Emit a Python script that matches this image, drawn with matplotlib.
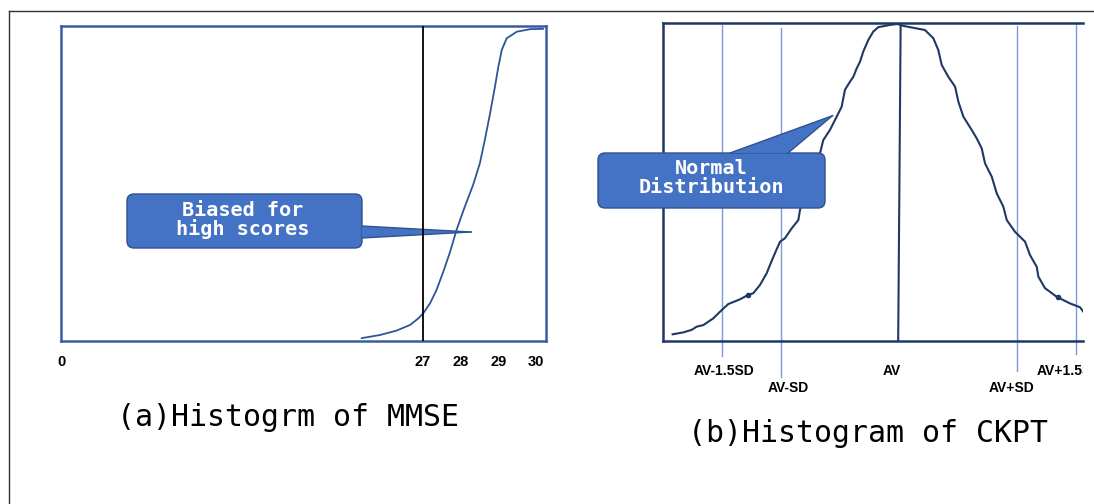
import numpy as np
import matplotlib
matplotlib.use("Agg")
import matplotlib.pyplot as plt
from matplotlib.patches import FancyBboxPatch, Polygon, Rectangle
from matplotlib.transforms import Affine2D
from matplotlib.lines import Line2D

# (a) MMSE - score vs relative frequency
mmse_score = [25.37, 25.86, 26.30, 26.66, 26.88, 27.01, 27.19, 27.36, 27.54,
              27.72, 27.89, 28.11, 28.33, 28.51, 28.64, 28.78, 28.91, 29.00,
              29.09, 29.22, 29.49, 29.84, 30.19]
mmse_freq = [0.009, 0.019, 0.033, 0.051, 0.072, 0.088, 0.120, 0.162, 0.220,
             0.283, 0.352, 0.426, 0.495, 0.564, 0.637, 0.722, 0.807, 0.870,
             0.923, 0.960, 0.981, 0.989, 0.990]
mmse_ticks = [17.4, 27, 28, 29, 30]
mmse_ticklabels = ["0", "27", "28", "29", "30"]
mmse_cut = 27

# (b) CKPT - position in SD units vs relative frequency
ckpt_sd = [-1.918, -1.828, -1.757, -1.714, -1.658, -1.574, -1.503, -1.447,
           -1.347, -1.277, -1.235, -1.178, -1.121, -1.093, -1.051, -1.008,
           -0.966, -0.909, -0.853, -0.839, -0.669, -0.642, -0.585, -0.528,
           -0.486, -0.458, -0.415, -0.387, -0.358, -0.331, -0.303, -0.260,
           -0.218, -0.175, -0.076, -0.014,
           0.036, 0.220, 0.291, 0.333, 0.362, 0.418, 0.475, 0.503, 0.545,
           0.616, 0.658, 0.701, 0.729, 0.786, 0.828, 0.884, 0.913, 0.983,
           1.068, 1.110, 1.167, 1.181, 1.237, 1.336, 1.449, 1.534, 1.562]
ckpt_freq = [0.021, 0.027, 0.035, 0.045, 0.050, 0.071, 0.097, 0.116,
             0.131, 0.145, 0.150, 0.176, 0.213, 0.239, 0.276, 0.312,
             0.323, 0.354, 0.380, 0.412, 0.590, 0.631, 0.663, 0.705,
             0.736, 0.789, 0.815, 0.830, 0.857, 0.877, 0.909, 0.946,
             0.972, 0.986, 0.993, 0.996,
             0.990, 0.977, 0.951, 0.914, 0.867, 0.830, 0.799, 0.752, 0.705,
             0.663, 0.637, 0.605, 0.558, 0.516, 0.464, 0.422, 0.380, 0.343,
             0.312, 0.270, 0.233, 0.202, 0.166, 0.139, 0.118, 0.106, 0.092]
ckpt_dots_sd = [-1.277, 1.350]
ckpt_dots_freq = [0.145, 0.137]
ckpt_lines = [-1.5, -1, 1, 1.5]
ckpt_labels = ["AV-1.5SD", "AV-SD", "AV", "AV+SD", "AV+1.5SD"]
ckpt_label_pos = [-1.5, -1, 0, 1, 1.5]

W, H = 1094, 504
fig = plt.figure(figsize=(W / 100, H / 100), dpi=100)
# pixel coords, origin top-left
px = Affine2D().scale(1 / W, -1 / H).translate(0, 1) + fig.transFigure

box_fc = "#4472C4"
box_ec = "#2F528F"
mono = "DejaVu Sans Mono"

# outer frame
fig.add_artist(Line2D([9 / W, 1], [1 - 11 / H, 1 - 11 / H], color="#333333", lw=1))
fig.add_artist(Line2D([9 / W, 9 / W], [0, 1 - 11 / H], color="#333333", lw=1))


def callout(ax, box, tip, base, text, text_xy, z):
    x0, y0, x1, y1 = box
    rect = FancyBboxPatch((x0, y0), x1 - x0, y1 - y0,
                          boxstyle="round,pad=0,rounding_size=7",
                          fc=box_fc, ec=box_ec, lw=1, transform=px,
                          clip_on=False, zorder=z)
    ax.add_patch(rect)
    tri = Polygon([base[0], tip, base[1]], closed=True, fc=box_fc, ec="none",
                  transform=px, clip_on=False, zorder=z + 0.1)
    ax.add_patch(tri)
    for b in base:
        ax.add_line(Line2D([b[0], tip[0]], [b[1], tip[1]], color=box_ec, lw=1,
                           transform=px, clip_on=False, zorder=z + 0.2))
    ax.text(text_xy[0], text_xy[1], text, transform=px, color="white",
            fontsize=14.5, fontweight="bold", family=mono, ha="center",
            va="center", linespacing=0.95, zorder=z + 0.3)


# ---- (a) MMSE
ax1 = fig.add_axes([61 / W, 1 - 341 / H, 484.5 / W, 315.3 / H])
ax1.set_xlim(17.4, 30.25)
ax1.set_ylim(0, 1)
ax1.plot(mmse_score, mmse_freq, color="#2F5597", lw=1.3, zorder=3,
         solid_capstyle="round", solid_joinstyle="round")
ax1.axvline(mmse_cut, color="black", lw=1.3, zorder=3)
for s in ax1.spines.values():
    s.set_color("#3B5C9E")
    s.set_linewidth(1.8)
ax1.set_xticks([])
ax1.set_yticks([])
for t, lab in zip(mmse_ticks, mmse_ticklabels):
    ax1.text(t, -0.067, lab, ha="center", va="center", fontsize=10.5,
             fontweight="bold", family="Liberation Sans")
callout(ax1, (127, 194, 362, 248), (471, 232), [(362, 226), (362, 238)],
        "Biased for\nhigh scores", (243, 220), 1)
ax1.text(288, 417, "(a)Histogrm of MMSE", transform=px, fontsize=21.5,
         family=mono, ha="center", va="center")

# ---- (b) CKPT
ax2 = fig.add_axes([662.5 / W, 1 - 341 / H, 420.5 / W, 318.3 / H])
ax2.set_xlim(-2.004, 1.559)
ax2.set_ylim(0, 1)
ax2.plot(ckpt_sd, ckpt_freq, color="#203864", lw=1.5, zorder=3,
         solid_joinstyle="round")
ax2.plot(ckpt_dots_sd, ckpt_dots_freq, "o", color="#203864", ms=3, zorder=3)
ax2.plot([0.014, -0.007], [1, 0], color="#203864", lw=1.5, zorder=3)
line_tops = [0.993, 0.983, 0.99, 1.0]
line_bottoms = [-0.047, -0.113, -0.094, -0.041]
for x, y0, y1 in zip(ckpt_lines, line_bottoms, line_tops):
    ax2.plot([x, x], [y0, y1], color="#7A9CD6", lw=1, clip_on=False, zorder=2)
for s in ax2.spines.values():
    s.set_color("#203864")
    s.set_linewidth(1.8)
ax2.spines["right"].set_visible(False)
ax2.set_xticks([])
ax2.set_yticks([])
label_y = [-0.094, -0.148, -0.094, -0.148, -0.094]
label_dx = [0.02, 0.06, -0.06, -0.05, -0.06]
clip = Rectangle((0, 0), 1083, H, transform=px)
for x, dx, y, lab in zip(ckpt_label_pos, label_dx, label_y, ckpt_labels):
    t = ax2.text(x + dx, y, lab, ha="center", va="center", fontsize=10,
                 fontweight="bold", family="Liberation Sans", clip_on=True)
    t.set_clip_path(clip)
callout(ax2, (598, 153, 825, 208), (832.5, 115.7), [(730, 153), (788, 153)],
        "Normal\nDistribution", (711, 178), 5)
ax2.text(868, 433, "(b)Histogram of CKPT", transform=px, fontsize=21.5,
         family=mono, ha="center", va="center")

fig.savefig("out.png", dpi=100)
